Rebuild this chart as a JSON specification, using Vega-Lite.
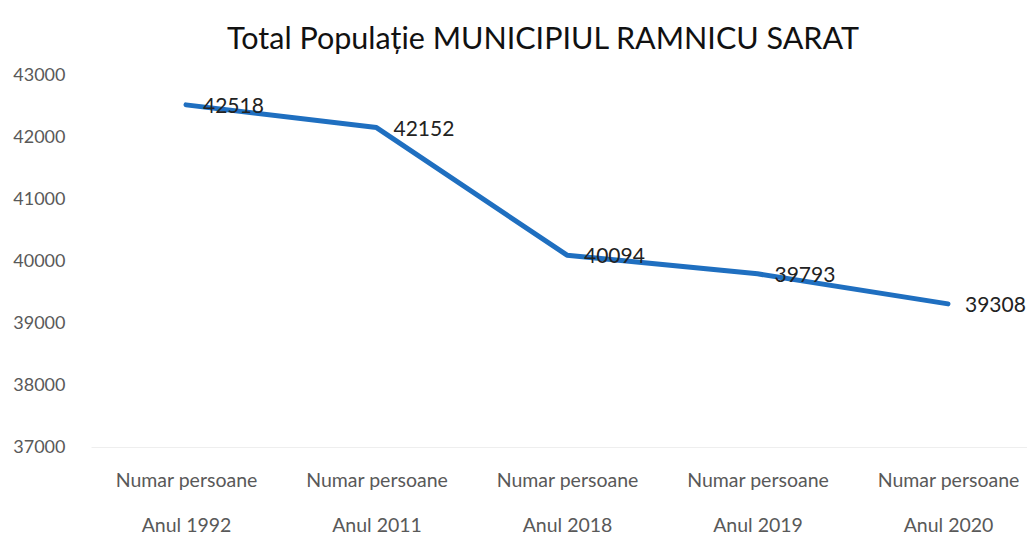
{
  "$schema": "https://vega.github.io/schema/vega-lite/v6.json",
  "autosize": {"type": "none"},
  "width": 936,
  "height": 372,
  "padding": {"left": 91, "top": 75, "right": 0, "bottom": 93},
  "background": "white",
  "title": {
    "text": "Total Populație MUNICIPIUL RAMNICU SARAT",
    "font": "Lato",
    "fontSize": 30.5,
    "fontWeight": "normal",
    "color": "#111111",
    "anchor": "middle",
    "dx": -16,
    "offset": 11
  },
  "data": {
    "values": [
      {"cat": "Numar persoane|Anul 1992", "value": 42518},
      {"cat": "Numar persoane|Anul 2011", "value": 42152},
      {"cat": "Numar persoane|Anul 2018", "value": 40094},
      {"cat": "Numar persoane|Anul 2019", "value": 39793},
      {"cat": "Numar persoane|Anul 2020", "value": 39308}
    ]
  },
  "encoding": {
    "x": {
      "field": "cat",
      "type": "nominal",
      "sort": null,
      "scale": {"type": "point", "padding": 0.4567, "align": 0.546},
      "axis": {
        "title": null,
        "labelAngle": 0,
        "labelExpr": "split(datum.label, '|')",
        "labelFont": "Lato",
        "labelFontSize": 19.5,
        "labelColor": "#595959",
        "labelLineHeight": 45,
        "labelPadding": 24,
        "labelBaseline": "top",
        "domainColor": "#eeeeee",
        "ticks": false,
        "grid": false
      }
    },
    "y": {
      "field": "value",
      "type": "quantitative",
      "scale": {"domain": [37000, 43000], "nice": false, "zero": false},
      "axis": {
        "title": null,
        "values": [37000, 38000, 39000, 40000, 41000, 42000, 43000],
        "format": "d",
        "labelFont": "Lato",
        "labelFontSize": 18,
        "labelColor": "#595959",
        "labelPadding": 26,
        "domain": false,
        "ticks": false,
        "grid": false
      }
    }
  },
  "layer": [
    {
      "mark": {"type": "line", "color": "#1f6fc0", "strokeWidth": 5, "strokeCap": "round", "strokeJoin": "round"}
    },
    {
      "mark": {"type": "text", "align": "left", "baseline": "middle", "dx": 17, "dy": 2, "font": "Lato", "fontSize": 21, "color": "#222222"},
      "encoding": {"text": {"field": "value", "type": "quantitative", "format": "d"}}
    }
  ],
  "config": {"view": {"stroke": null}}
}
